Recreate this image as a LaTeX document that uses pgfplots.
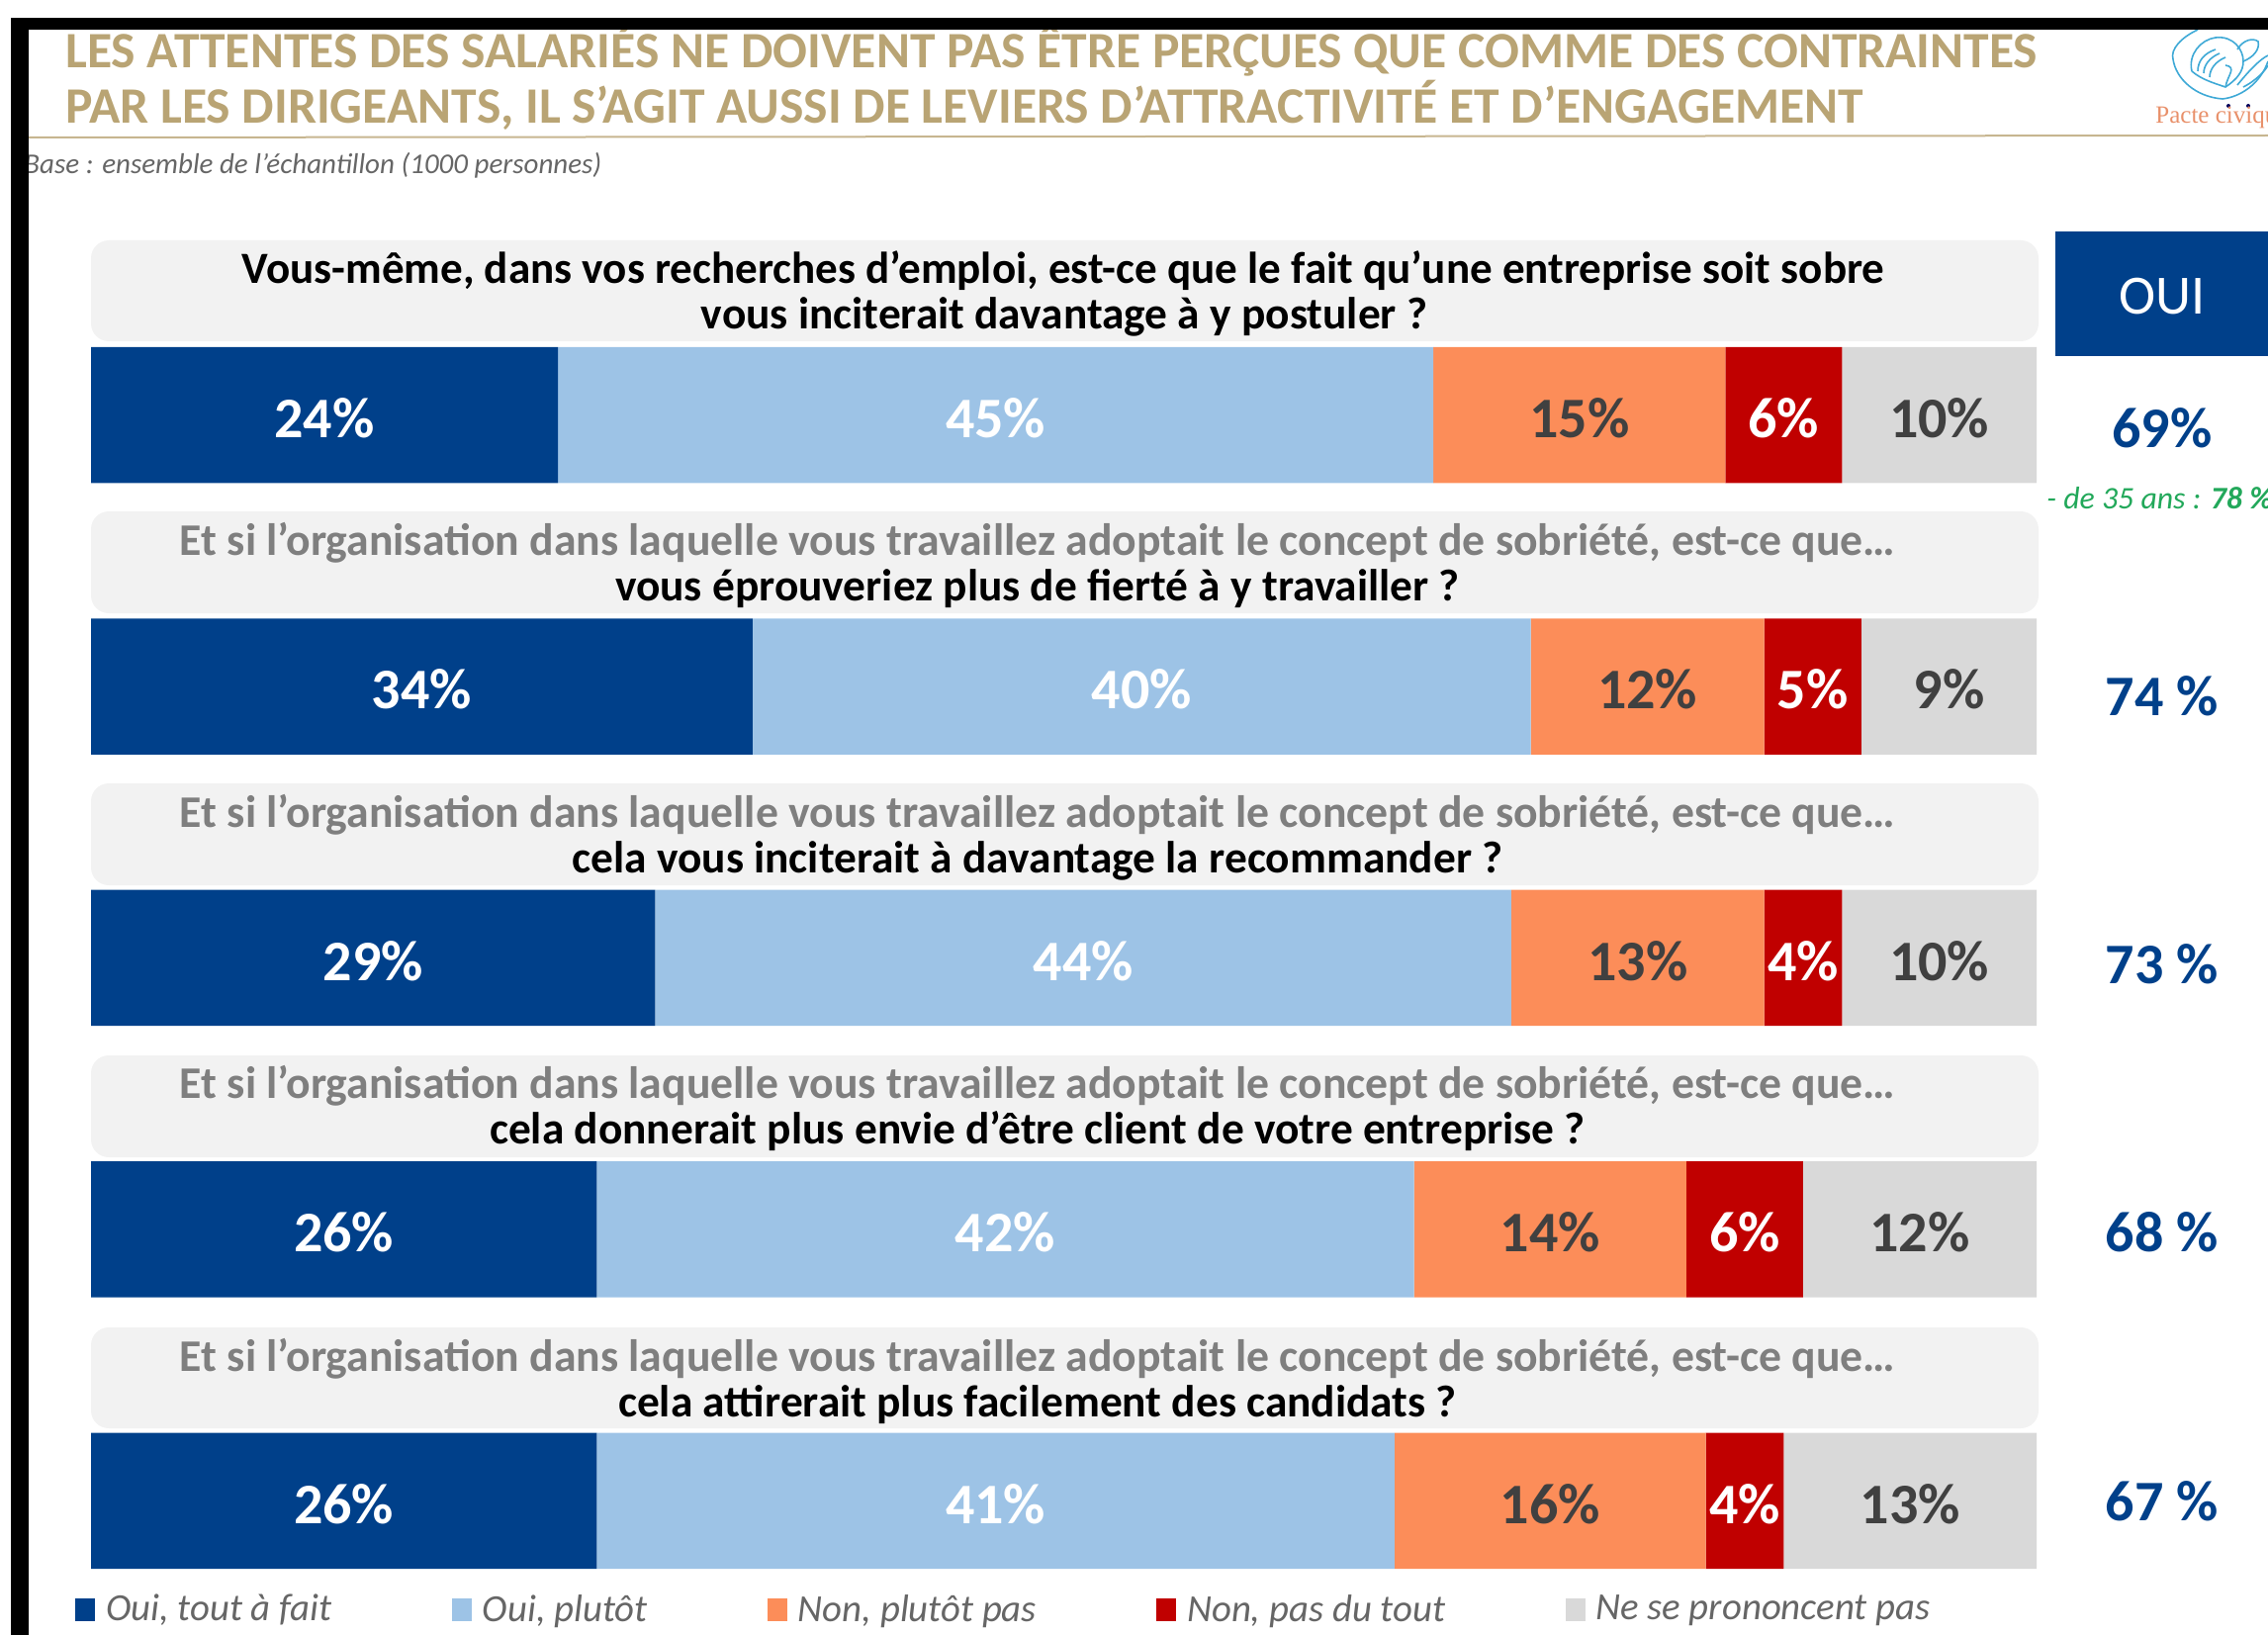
\documentclass[border=0pt]{standalone}
\usepackage{pgfplots}
\usepackage{pgfplotstable}
\usepackage{fontspec}
\setmainfont{Carlito}
\newfontfamily\serifaux{Liberation Serif}
\pgfplotsset{compat=1.18}
\definecolor{navy}{HTML}{00408A}
\definecolor{lblue}{HTML}{9DC3E6}
\definecolor{orng}{HTML}{FC8D59}
\definecolor{dred}{HTML}{C00000}
\definecolor{lgray}{HTML}{D9D9D9}
\definecolor{tgold}{HTML}{B9A474}
\definecolor{boxg}{HTML}{F2F2F2}
\definecolor{qgray}{HTML}{7F7F7F}
\definecolor{dtext}{HTML}{404040}
\definecolor{greent}{HTML}{22A85A}
\definecolor{logob}{HTML}{3FA9D6}
\definecolor{logor}{HTML}{E8906A}
\pgfplotstableread{
row a b c d e
0 24 45 15 6 10
1 34 40 12 5 9
2 29 44 13 4 10
3 26 42 14 6 12
4 26 41 16 4 13
}\rows
\begin{document}
\begin{tikzpicture}[x=0.5pt,y=-0.5pt]
\path[use as bounding box] (0,0) rectangle (2293,1653);
\clip (0,0) rectangle (2293,1653);
% title
\node[anchor=west,inner sep=0pt,text=tgold,font=\fontsize{25.8}{26}\selectfont\bfseries] at (66,51) {LES ATTENTES DES SALARIÉS NE DOIVENT PAS ÊTRE PERÇUES QUE COMME DES CONTRAINTES};
\node[anchor=west,inner sep=0pt,text=tgold,font=\fontsize{25.8}{26}\selectfont\bfseries] at (66,106) {PAR LES DIRIGEANTS, IL S’AGIT AUSSI DE LEVIERS D’ATTRACTIVITÉ ET D’ENGAGEMENT};
\draw[tgold!80,line width=1pt] (29,139) -- (2293,137);
\node[anchor=west,inner sep=0pt,text=black!60,font=\fontsize{14.5}{15}\selectfont\itshape] at (24,167) {Base : ensemble de l’échantillon (1000 personnes)};
% logo
\begin{scope}[draw=logob,line width=0.8pt]
\draw (2222,30) .. controls (2205,38) and (2194,50) .. (2197,60) .. controls (2200,80) and (2220,98) .. (2247,100) .. controls (2265,98) and (2285,85) .. (2293,62);
\draw (2216,72) .. controls (2212,55) and (2225,40) .. (2240,38) .. controls (2258,36) and (2268,50) .. (2268,62) .. controls (2268,72) and (2262,80) .. (2250,88) .. controls (2238,84) and (2225,80) .. (2216,72);
\draw (2222,72) .. controls (2222,62) and (2228,54) .. (2240,50);
\draw (2228,74) .. controls (2228,66) and (2234,58) .. (2244,54);
\draw (2234,78) .. controls (2234,70) and (2240,62) .. (2250,58);
\draw (2250,88) .. controls (2252,76) and (2262,68) .. (2250,66);
\draw (2262,50) .. controls (2268,40) and (2278,38) .. (2283,42) .. controls (2285,50) and (2278,58) .. (2268,62);
\draw (2262,86) .. controls (2275,70) and (2285,60) .. (2293,56);
\draw (2268,88) .. controls (2280,82) and (2290,72) .. (2293,66);
\end{scope}
\fill[black!65!blue] (2253,107) circle (2);
\fill[black!65!blue] (2273,107) circle (2);
\node[anchor=base west,inner sep=0pt,text=logor,font=\serifaux\fontsize{12.5}{13}\selectfont] at (2179,125) {Pacte civique};
% question boxes
\foreach \t/\b in {243/345,517/620,792/895,1067/1170,1342/1444}{
  \fill[boxg,rounded corners=9pt] (92,\t) rectangle (2061,\b);
}
\tikzset{q/.style={anchor=center,inner sep=0pt,font=\fontsize{22.7}{23}\selectfont\bfseries},
         qg/.style={anchor=center,inner sep=0pt,font=\fontsize{22.85}{23}\selectfont\bfseries}}
\node[anchor=center,inner sep=0pt,font=\fontsize{22.55}{23}\selectfont\bfseries,text=black] at (1075,274) {Vous-même, dans vos recherches d’emploi, est-ce que le fait qu’une entreprise soit sobre};
\node[q,text=black] at (1076,320) {vous inciterait davantage à y postuler ?};
\node[qg,text=qgray] at (1049,549) {Et si l’organisation dans laquelle vous travaillez adoptait le concept de sobriété, est-ce que…};
\node[q,text=black] at (1049,595) {vous éprouveriez plus de fierté à y travailler ?};
\node[qg,text=qgray] at (1049,824) {Et si l’organisation dans laquelle vous travaillez adoptait le concept de sobriété, est-ce que…};
\node[q,text=black] at (1049,870) {cela vous inciterait à davantage la recommander ?};
\node[qg,text=qgray] at (1049,1098) {Et si l’organisation dans laquelle vous travaillez adoptait le concept de sobriété, est-ce que…};
\node[q,text=black] at (1049,1144) {cela donnerait plus envie d’être client de votre entreprise ?};
\node[qg,text=qgray] at (1049,1374) {Et si l’organisation dans laquelle vous travaillez adoptait le concept de sobriété, est-ce que…};
\node[q,text=black] at (1049,1420) {cela attirerait plus facilement des candidats ?};
% OUI column
\fill[navy] (2078,234) rectangle (2293,360);
\node[text=white,inner sep=0pt,font=\fontsize{28}{28}\selectfont] at (2186,300) {OUI};
\tikzset{v/.style={inner sep=0pt,text=navy,font=\fontsize{29}{29}\selectfont\bfseries}}
\node[v] at (2186,433) {69\%};
\node[v] at (2186,704) {74 \%};
\node[v] at (2186,975) {73 \%};
\node[v] at (2186,1246) {68 \%};
\node[v] at (2186,1518) {67 \%};
\node[anchor=west,inner sep=0pt,text=greent,font=\fontsize{15.9}{16}\selectfont\itshape] at (2069,504) {- de 35 ans : \textbf{78 \%}};
% bars
\begin{axis}[
  at={(46pt,-813.5pt)},anchor=south west,
  scale only axis,width=983.5pt,height=658.6pt,
  xmin=0,xmax=100,ymin=-0.4,ymax=4.4,
  y dir=reverse,
  hide axis,
  xbar stacked,
  bar width=68.75pt,
  clip=false,
  point meta=explicit,
  nodes near coords={\pgfmathprintnumber[/pgf/number format/assume math mode=true]{\pgfplotspointmeta}\%},
  every node near coord/.append style={font=\fontsize{29}{29}\selectfont\bfseries,inner sep=0pt,yshift=-1.5pt},
  legend columns=5,
  legend style={at={(-0.0081,0.0)},anchor=west,draw=none,fill=none,inner sep=0pt,
    font=\fontsize{19.4}{19.4}\selectfont\itshape,text=black!60,
    /tikz/every even column/.append style={column sep=58.7pt},
    /tikz/every odd column/.append style={column sep=3.3pt},
    nodes={inner sep=2pt}},
  legend cell align=left,
  every axis plot/.append style={draw=none},
  legend image code/.code={\fill[#1] (0pt,-5.75pt) rectangle (10pt,5.75pt);},
]
\addplot+[fill=navy,every node near coord/.append style={text=white}] table[x=a,y=row,meta=a]{\rows};
\addplot+[fill=lblue,every node near coord/.append style={text=white}] table[x=b,y=row,meta=b]{\rows};
\addplot+[fill=orng,every node near coord/.append style={text=dtext}] table[x=c,y=row,meta=c]{\rows};
\addplot+[fill=dred,every node near coord/.append style={text=white}] table[x=d,y=row,meta=d]{\rows};
\addplot+[fill=lgray,every node near coord/.append style={text=dtext}] table[x=e,y=row,meta=e]{\rows};
\legend{Oui{,} tout à fait,Oui{,} plutôt,Non{,} plutôt pas,Non{,} pas du tout,Ne se prononcent pas}
\end{axis}
% black frame
\fill[black] (11,18) rectangle (2293,30);
\fill[black] (11,18) rectangle (29,1653);
\end{tikzpicture}
\end{document}
